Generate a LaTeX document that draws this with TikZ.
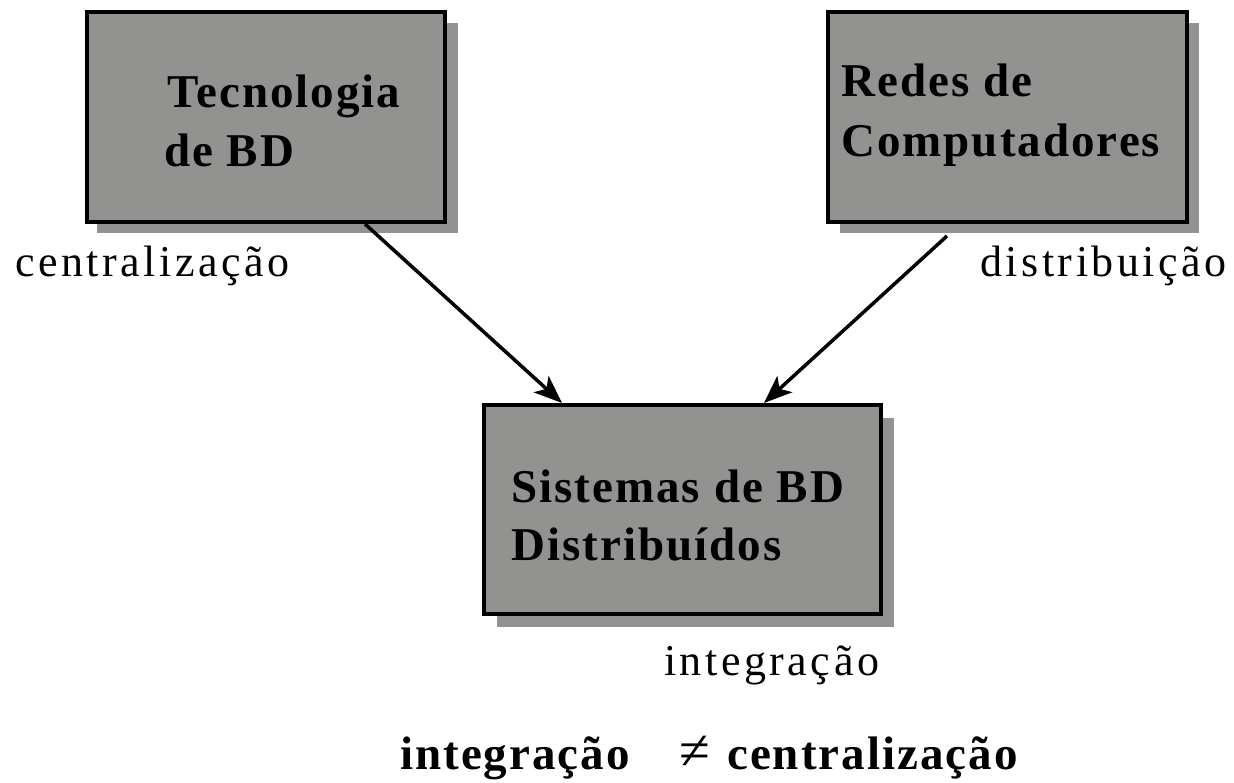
\documentclass[tikz,border=0pt]{standalone}
\usepackage{fontspec}
\setmainfont{Liberation Serif}
\newfontfamily\boxfont{Liberation Serif}[LetterSpace=4.3]
\newfontfamily\labfont{Liberation Serif}[LetterSpace=8]
\usetikzlibrary{arrows.meta}
\definecolor{boxgray}{RGB}{146,147,144}
\tikzset{
  shadowbox/.style={fill=boxgray, draw=none, inner sep=0pt, anchor=north west},
  mainbox/.style={fill=boxgray, draw=black, line width=4pt, inner sep=0pt, anchor=north west},
  boxtxt/.style={inner sep=0pt, anchor=base west, font=\boxfont\bfseries\fontsize{47}{56}\selectfont},
  labtxt/.style={inner sep=0pt, anchor=base west, font=\labfont\fontsize{44}{52}\selectfont},
  arr/.style={line width=3.5pt, -{Stealth[length=28pt,width=22pt,inset=7pt]}}
}
\begin{document}
\begin{tikzpicture}[x=1pt,y=-1pt]
\useasboundingbox (0,0) rectangle (1234,783);
% shadows
\node[shadowbox, minimum width=361pt, minimum height=210pt] (s1) at (97,23) {};
\node[shadowbox, minimum width=359pt, minimum height=210pt] (s2) at (840,23) {};
\node[shadowbox, minimum width=397pt, minimum height=209pt] (s3) at (497,418) {};
% boxes
\node[mainbox, minimum width=358pt, minimum height=210pt] (b1) at (85,10) {};
\node[mainbox, minimum width=359pt, minimum height=210pt] (b2) at (826,10) {};
\node[mainbox, minimum width=397pt, minimum height=209pt] (b3) at (482,403) {};
% box texts
\node[boxtxt] (t1a) at (167,108) {Tecnologia};
\node[boxtxt] (t1b) at (164,167) {de BD};
\node[boxtxt] (t2a) at (841,97) {Redes de};
\node[boxtxt] (t2b) at (841,157) {Computadores};
\node[boxtxt] (t3a) at (511,502) {Sistemas de BD};
\node[boxtxt] (t3b) at (511,560) {Distribuídos};
% arrows
\draw[arr] ([xshift=99pt]b1.south) -- ([xshift=-120.5pt]b3.north);
\draw[arr] ([xshift=-60.5pt,yshift=-12pt]b2.south) -- ([xshift=81.5pt]b3.north);
% labels
\node[labtxt] (l1) at (15,277) {centralização};
\node[labtxt] (l2) at (980,277) {distribuição};
\node[labtxt] (l3) at (664,675) {integração};
% bottom formula
\node[boxtxt] (f1) at (400,769) {integração};
\node[inner sep=0pt, anchor=base west, font=\fontsize{56}{60}\selectfont] (f2) at (679,769) {≠};
\node[boxtxt] (f3) at (727,769) {centralização};
\end{tikzpicture}
\end{document}
